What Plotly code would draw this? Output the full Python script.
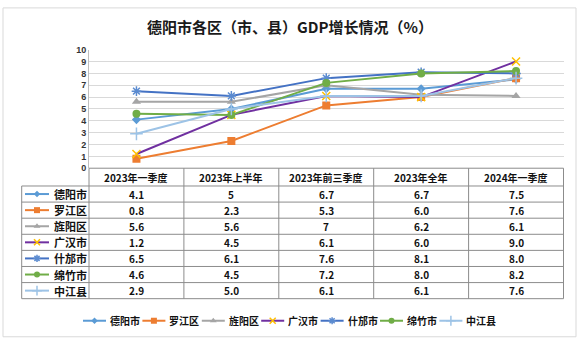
import plotly.graph_objects as go

# ---------------- data ----------------
categories = ["2023年一季度", "2023年上半年", "2023年前三季度", "2023年全年", "2024年一季度"]
series_names = ["德阳市", "罗江区", "旌阳区", "广汉市", "什邡市", "绵竹市", "中江县"]
deyang = ["4.1", "5", "6.7", "6.7", "7.5"]
luojiang = ["0.8", "2.3", "5.3", "6.0", "7.6"]
jingyang = ["5.6", "5.6", "7", "6.2", "6.1"]
guanghan = ["1.2", "4.5", "6.1", "6.0", "9.0"]
shifang = ["6.5", "6.1", "7.6", "8.1", "8.0"]
mianzhu = ["4.6", "4.5", "7.2", "8.0", "8.2"]
zhongjiang = ["2.9", "5.0", "6.1", "6.1", "7.6"]
y_ticks = list(range(0, 11))
title_text = "德阳市各区（市、县）GDP增长情况（%）"

series_values = [deyang, luojiang, jingyang, guanghan, shifang, mianzhu, zhongjiang]

# ---------------- styles ----------------
W, H = 582, 351
line_colors = ["#5B9BD5", "#ED7D31", "#A5A5A5", "#7030A0", "#4472C4", "#70AD47", "#9DC3E6"]
marker_styles = [
    dict(symbol="diamond", color="#5B9BD5", size=7),
    dict(symbol="square", color="#ED7D31", size=8),
    dict(symbol="triangle-up", color="#A5A5A5", size=8),
    dict(symbol="x-thin-open", color="#FFC000", size=8, line=dict(color="#FFC000", width=1.5)),
    dict(symbol="asterisk-open", color="#5B8BD0", size=8, line=dict(color="#5B8BD0", width=1.5)),
    dict(symbol="circle", color="#70AD47", size=8),
    dict(symbol="cross-thin-open", color="#9DC3E6", size=9, line=dict(color="#9DC3E6", width=1.5)),
]
FONT = "Noto Sans CJK SC, Noto Sans, sans-serif"
TXT = "#111111"
GRID = "#d9d9d9"
TBL = "#8c8c8c"

PLOT_L, PLOT_R = 89, 563.5
PLOT_T, PLOT_B = 46, 168
NAME_L = 21.7
ROW_H = 16.57
HEAD_B = 186.3

fig = go.Figure()

# main lines
for name, vals, lc, ms in zip(series_names, series_values, line_colors, marker_styles):
    fig.add_trace(go.Scatter(
        x=categories, y=[float(v) for v in vals], name=name,
        mode="lines+markers", line=dict(color=lc, width=2),
        marker=ms, showlegend=False, xaxis="x", yaxis="y",
    ))

# overlay pixel axis for table keys and legend
n = len(categories)
col_w = (PLOT_R - PLOT_L) / n
shapes = []
annotations = []

# outer border
shapes.append(dict(type="rect", xref="x2", yref="y2", x0=3, y0=3, x1=576, y1=341.5,
                   line=dict(color=GRID, width=1), fillcolor="rgba(0,0,0,0)", layer="below"))

# table grid
n_rows = len(series_names)
table_bottom = HEAD_B + n_rows * ROW_H
shapes.append(dict(type="line", xref="x2", yref="y2", x0=PLOT_L, x1=PLOT_R, y0=PLOT_B, y1=PLOT_B,
                   line=dict(color=TBL, width=1)))
for k in range(n_rows + 1):
    yy = HEAD_B + k * ROW_H
    shapes.append(dict(type="line", xref="x2", yref="y2", x0=NAME_L, x1=PLOT_R, y0=yy, y1=yy,
                       line=dict(color=TBL, width=1)))
shapes.append(dict(type="line", xref="x2", yref="y2", x0=NAME_L, x1=NAME_L, y0=HEAD_B, y1=table_bottom,
                   line=dict(color=TBL, width=1)))
for j in range(n + 1):
    xx = PLOT_L + j * col_w
    shapes.append(dict(type="line", xref="x2", yref="y2", x0=xx, x1=xx, y0=PLOT_B, y1=table_bottom,
                       line=dict(color=TBL, width=1)))

# header text
for j, c in enumerate(categories):
    annotations.append(dict(xref="x2", yref="y2", x=PLOT_L + (j + 0.5) * col_w, y=(PLOT_B + HEAD_B) / 2,
                            text=c, showarrow=False, font=dict(family=FONT, size=10, color=TXT, weight="bold"),
                            xanchor="center", yanchor="middle"))

# rows
for i, (name, vals, lc, ms) in enumerate(zip(series_names, series_values, line_colors, marker_styles)):
    yc = HEAD_B + (i + 0.5) * ROW_H
    # key in table
    fig.add_trace(go.Scatter(x=[25, 37, 49], y=[yc, yc, yc], mode="lines", line=dict(color=lc, width=2),
                             showlegend=False, hoverinfo="skip", xaxis="x2", yaxis="y2"))
    mk = dict(ms)
    mk["size"] = ms["size"] - 2
    fig.add_trace(go.Scatter(x=[37], y=[yc], mode="markers", marker=mk,
                             showlegend=False, hoverinfo="skip", xaxis="x2", yaxis="y2"))
    annotations.append(dict(xref="x2", yref="y2", x=52, y=yc, text=name, showarrow=False,
                            font=dict(family=FONT, size=11, color=TXT, weight="bold"),
                            xanchor="left", yanchor="middle"))
    for j, v in enumerate(vals):
        annotations.append(dict(xref="x2", yref="y2", x=PLOT_L + (j + 0.5) * col_w, y=yc, text=v,
                                showarrow=False, font=dict(family=FONT, size=10, color=TXT, weight="bold"),
                                xanchor="center", yanchor="middle"))

# bottom legend
LEG_X0, LEG_STEP, LEG_Y, KEY_W = 83, 59.4, 325, 23
for i, (name, lc, ms) in enumerate(zip(series_names, line_colors, marker_styles)):
    x0 = LEG_X0 + i * LEG_STEP
    fig.add_trace(go.Scatter(x=[x0, x0 + KEY_W], y=[LEG_Y, LEG_Y], mode="lines", line=dict(color=lc, width=2),
                             showlegend=False, hoverinfo="skip", xaxis="x2", yaxis="y2"))
    mk = dict(ms)
    mk["size"] = ms["size"] - 2
    fig.add_trace(go.Scatter(x=[x0 + KEY_W / 2], y=[LEG_Y], mode="markers", marker=mk,
                             showlegend=False, hoverinfo="skip", xaxis="x2", yaxis="y2"))
    annotations.append(dict(xref="x2", yref="y2", x=x0 + KEY_W + 2, y=LEG_Y, text=name, showarrow=False,
                            font=dict(family=FONT, size=10, color=TXT, weight="bold"),
                            xanchor="left", yanchor="middle"))

# title
annotations.append(dict(xref="x2", yref="y2", x=290, y=22, text=title_text, showarrow=False,
                        font=dict(family=FONT, size=15, color="#1a1a1a", weight="bold"),
                        xanchor="center", yanchor="middle"))

fig.update_layout(
    width=W, height=H,
    margin=dict(l=0, r=0, t=0, b=0),
    paper_bgcolor="white", plot_bgcolor="rgba(0,0,0,0)",
    showlegend=False,
    xaxis=dict(domain=[PLOT_L / W, PLOT_R / W], type="category", range=[-0.5, n - 0.5],
               showticklabels=False, showgrid=False, zeroline=False, showline=False, ticks=""),
    yaxis=dict(domain=[1 - PLOT_B / H, 1 - PLOT_T / H], range=[0, 10], tickvals=y_ticks,
               showgrid=True, gridcolor=GRID, gridwidth=1, zeroline=False,
               showline=True, linecolor="#bfbfbf", linewidth=1, ticks="",
               tickfont=dict(family="Liberation Sans, Arial, sans-serif", size=9, color="#333333", weight="bold")),
    xaxis2=dict(domain=[0, 1], range=[0, W], visible=False, anchor="y2"),
    yaxis2=dict(domain=[0, 1], range=[H, 0], visible=False, anchor="x2"),
    shapes=shapes, annotations=annotations,
)

fig.write_html("out.html")
